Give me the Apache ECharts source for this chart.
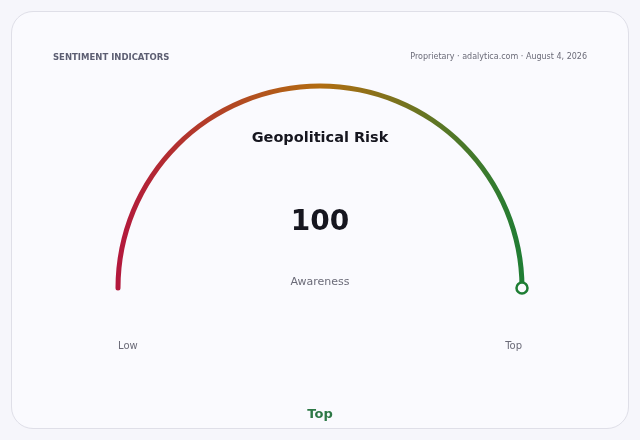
<!DOCTYPE html>
<html>
<head>
<meta charset="utf-8">
<script src="https://cdn.jsdelivr.net/npm/echarts@6/dist/echarts.min.js"></script>
<style>
  html, body { margin: 0; padding: 0; background: #f6f6fb; }
  #card {
    position: absolute; left: 11px; top: 11px; width: 616px; height: 416px;
    border: 1px solid #dfdfe8; border-radius: 22px; background: #fafafe;
  }
  #main { position: absolute; left: 0; top: 0; width: 640px; height: 440px; }
</style>
</head>
<body>
<div id="card"></div>
<div id="main"></div>
<script>
// gauge data
const indicatorName = 'Geopolitical Risk';
const metricNames = ['Awareness'];
const scoreValues = [100];
const scaleMin = 0;
const scaleMax = 100;
const scaleLabels = ['Low', 'Top'];
const statusLabels = ['Top'];

const chart = echarts.init(document.getElementById('main'), null, { renderer: 'canvas' });

const fontFamily = 'DejaVu Sans, sans-serif';
const cx = 320, cy = 288, r = 204.5, band = 5;

var option = {
  backgroundColor: 'transparent',
  title: [
    {
      text: 'SENTIMENT INDICATORS',
      left: 53, top: 53, padding: 0,
      textStyle: { fontFamily: fontFamily, fontSize: 8.5, fontWeight: 'bold', color: '#5c5e72' }
    },
    {
      text: 'Proprietary · adalytica.com · August 4, 2026',
      right: 53, top: 53, padding: 0,
      textStyle: { fontFamily: fontFamily, fontSize: 8, fontWeight: 'normal', color: '#6b6b78' }
    },
    {
      text: indicatorName,
      left: 'center', top: 131, padding: 0,
      textStyle: { fontFamily: fontFamily, fontSize: 14.5, fontWeight: 'bold', color: '#16161f' }
    },
    {
      text: scaleLabels[0],
      left: 118, top: 341, padding: 0,
      textStyle: { fontFamily: fontFamily, fontSize: 10, fontWeight: 'normal', color: '#6b6b78' }
    },
    {
      text: scaleLabels[1],
      right: 118, top: 341, padding: 0,
      textStyle: { fontFamily: fontFamily, fontSize: 10, fontWeight: 'normal', color: '#6b6b78' }
    },
    {
      text: statusLabels[0],
      left: 'center', top: 408, padding: 0,
      textStyle: { fontFamily: fontFamily, fontSize: 13, fontWeight: 'bold', color: '#2d7846' }
    }
  ],
  // polar only used to place the end knob on the arc
  polar: { center: [cx, cy], radius: [0, r - band / 2] },
  angleAxis: {
    type: 'value', min: scaleMin, max: scaleMax * 2, startAngle: 180, clockwise: true,
    show: false
  },
  radiusAxis: { type: 'value', min: 0, max: 1, show: false },
  series: [
    {
      type: 'gauge',
      center: [cx, cy],
      radius: r,
      startAngle: 180,
      endAngle: 0,
      min: scaleMin,
      max: scaleMax,
      axisLine: { show: false },
      progress: {
        show: true,
        width: band,
        roundCap: true,
        itemStyle: {
          color: new echarts.graphic.LinearGradient(0, 0, 1, 0, [
            { offset: 0, color: '#b3173d' },
            { offset: 0.5, color: '#b26c10' },
            { offset: 1, color: '#1e7d34' }
          ])
        }
      },
      pointer: { show: false },
      anchor: { show: false },
      axisTick: { show: false },
      splitLine: { show: false },
      axisLabel: { show: false },
      title: {
        offsetCenter: [0, -6],
        fontFamily: fontFamily, fontSize: 11, color: '#6b6b78'
      },
      detail: {
        offsetCenter: [0, -65],
        fontFamily: fontFamily, fontSize: 28, fontWeight: 'bold', color: '#16161f',
        formatter: '{value}'
      },
      data: scoreValues.map(function (v, i) { return { value: v, name: metricNames[i] }; })
    },
    {
      type: 'scatter',
      coordinateSystem: 'polar',
      symbol: 'circle',
      symbolSize: 11,
      itemStyle: { color: '#fafafe', borderColor: '#1e7d34', borderWidth: 2.5, opacity: 1 },
      silent: true,
      data: scoreValues.map(function (v) { return [1, v]; })
    }
  ]
};
chart.setOption(option, true);
</script>
</body>
</html>
